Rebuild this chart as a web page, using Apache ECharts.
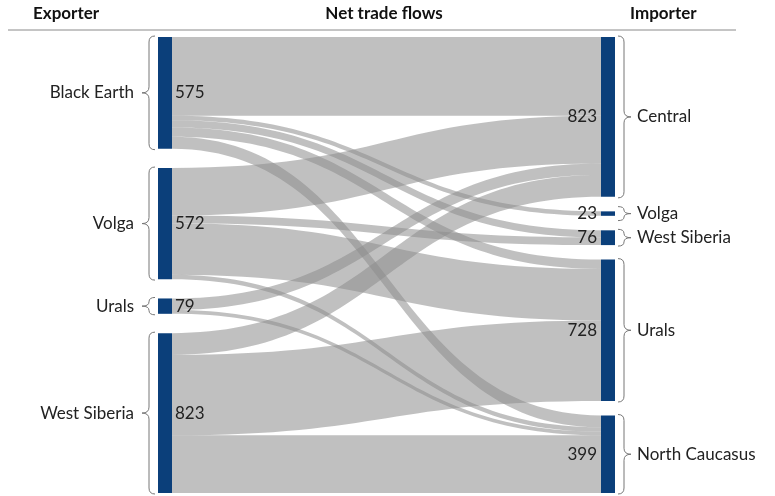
<!DOCTYPE html>
<html>
<head>
<meta charset="utf-8">
<script src="https://cdn.jsdelivr.net/npm/echarts@6/dist/echarts.min.js"></script>
<style>
html,body{margin:0;padding:0;background:#fff;}
#chart{width:775px;height:496px;}
</style>
</head>
<body>
<div id="chart"></div>
<script>
// ---- data ----
const exporters = ['Black Earth', 'Volga', 'Urals', 'West Siberia'];
const importers = ['Central', 'Volga', 'West Siberia', 'Urals', 'North Caucasus'];
// flows[exporter][importer]
const flowBlackEarth  = [406, 23, 37, 48, 61];
const flowVolga       = [245, 0, 39, 266, 22];
const flowUrals       = [60, 0, 0, 0, 19];
const flowWestSiberia = [112, 0, 0, 414, 297];
const flows = [flowBlackEarth, flowVolga, flowUrals, flowWestSiberia];
const headers = ['Exporter', 'Net trade flows', 'Importer'];

// ---- build ----
const FONT = 'Lato';
const nodes = [];
exporters.forEach(n => nodes.push({
  name: 'exp:' + n,
  label: { position: 'right', distance: 3 }
}));
importers.forEach(n => nodes.push({
  name: 'imp:' + n,
  label: { position: 'left', distance: 4 }
}));
const links = [];
flows.forEach((row, i) => row.forEach((v, j) => {
  if (v > 0) links.push({ source: 'exp:' + exporters[i], target: 'imp:' + importers[j], value: v });
}));

const chart = echarts.init(document.getElementById('chart'), null, { renderer: 'canvas' });
const option = {
  backgroundColor: '#fff',
  animation: false,
  series: [{
    type: 'sankey',
    left: 158, top: 37, right: 160, bottom: 3,
    nodeWidth: 14,
    nodeGap: 14.5,
    layoutIterations: 0,
    draggable: false,
    emphasis: { disabled: true },
    data: nodes,
    links: links,
    itemStyle: { color: '#0b3f7a', borderWidth: 0 },
    lineStyle: { color: '#8c8c8c', opacity: 0.55, curveness: 0.5 },
    label: {
      show: true,
      color: '#222',
      fontSize: 17,
      fontFamily: FONT,
      formatter: p => String(p.value)
    }
  }]
};
chart.setOption(option);

// ---- spread each column over the full height (space-between), from the library's layout ----
let placed = [];
try {
  const sm = chart.getModel().getSeriesByIndex(0);
  const li = sm.layoutInfo || { x: 158, y: 37, width: 457, height: 456 };
  const H = li.height;
  const cols = {};
  sm.getGraph().nodes.forEach(node => {
    const l = node.getLayout();
    const key = Math.round(l.x);
    (cols[key] = cols[key] || []).push({ node, l });
  });
  Object.keys(cols).forEach(k => {
    const col = cols[k].sort((a, b) => a.l.y - b.l.y);
    const sum = col.reduce((s, c) => s + c.l.dy, 0);
    const gap = col.length > 1 ? (H - sum) / (col.length - 1) : 0;
    let y = 0;
    col.forEach(c => {
      const idx = c.node.dataIndex;
      nodes[idx].localY = y / H;
      placed.push({ name: String(c.node.name || c.node.id), x: li.x + c.l.x, y: li.y + y, dx: c.l.dx, dy: c.l.dy });
      y += c.l.dy + gap;
    });
  });
  chart.setOption({ series: [{ data: nodes }] });
} catch (e) { console.error(e); }

// ---- braces and names ----
const BR = { stroke: '#777', lineWidth: 1, fill: null };
function brace(x0, y0, y1, dir) {
  const xEnd = x0, xMid = x0 + dir * 6, xTip = x0 + dir * 13;
  const ym = (y0 + y1) / 2;
  const r = Math.min(6, (y1 - y0) / 4);
  return [
    { type: 'bezierCurve', shape: { x1: xEnd, y1: y0, x2: xMid, y2: y0 + r, cpx1: xMid, cpy1: y0 }, style: BR },
    { type: 'line', shape: { x1: xMid, y1: y0 + r, x2: xMid, y2: ym - r }, style: BR },
    { type: 'bezierCurve', shape: { x1: xMid, y1: ym - r, x2: xTip, y2: ym, cpx1: xMid, cpy1: ym }, style: BR },
    { type: 'bezierCurve', shape: { x1: xTip, y1: ym, x2: xMid, y2: ym + r, cpx1: xMid, cpy1: ym }, style: BR },
    { type: 'line', shape: { x1: xMid, y1: ym + r, x2: xMid, y2: y1 - r }, style: BR },
    { type: 'bezierCurve', shape: { x1: xMid, y1: y1 - r, x2: xEnd, y2: y1, cpx1: xMid, cpy1: y1 }, style: BR }
  ];
}

const HS = { fontWeight: 'bold', fontSize: 17, fontFamily: FONT, fill: '#111', textVerticalAlign: 'middle' };
const graphics = [
  { type: 'line', shape: { x1: 8, y1: 30, x2: 736, y2: 30 }, style: { stroke: '#8a8a8a', lineWidth: 1 } },
  { type: 'text', x: 33, y: 14, style: Object.assign({ text: headers[0], textAlign: 'left' }, HS) },
  { type: 'text', x: 384, y: 14, style: Object.assign({ text: headers[1], textAlign: 'center' }, HS) },
  { type: 'text', x: 630, y: 14, style: Object.assign({ text: headers[2], textAlign: 'left' }, HS) }
];

placed.forEach(p => {
  const isExp = p.name.indexOf('exp:') === 0;
  const disp = p.name.slice(4);
  const cy = p.y + p.dy / 2;
  const h = Math.max(p.dy + 2, 14);
  const y0 = cy - h / 2, y1 = cy + h / 2;
  const NS = { text: disp, fontSize: 17, fontFamily: FONT, fill: '#222', textVerticalAlign: 'middle' };
  if (isExp) {
    brace(p.x - 3, y0, y1, -1).forEach(e => graphics.push(e));
    graphics.push({ type: 'text', x: p.x - 24, y: cy, style: Object.assign({ textAlign: 'right' }, NS) });
  } else {
    brace(p.x + p.dx + 3, y0, y1, 1).forEach(e => graphics.push(e));
    graphics.push({ type: 'text', x: p.x + p.dx + 22, y: cy, style: Object.assign({ textAlign: 'left' }, NS) });
  }
});

chart.setOption({ graphic: graphics });
</script>
</body>
</html>
